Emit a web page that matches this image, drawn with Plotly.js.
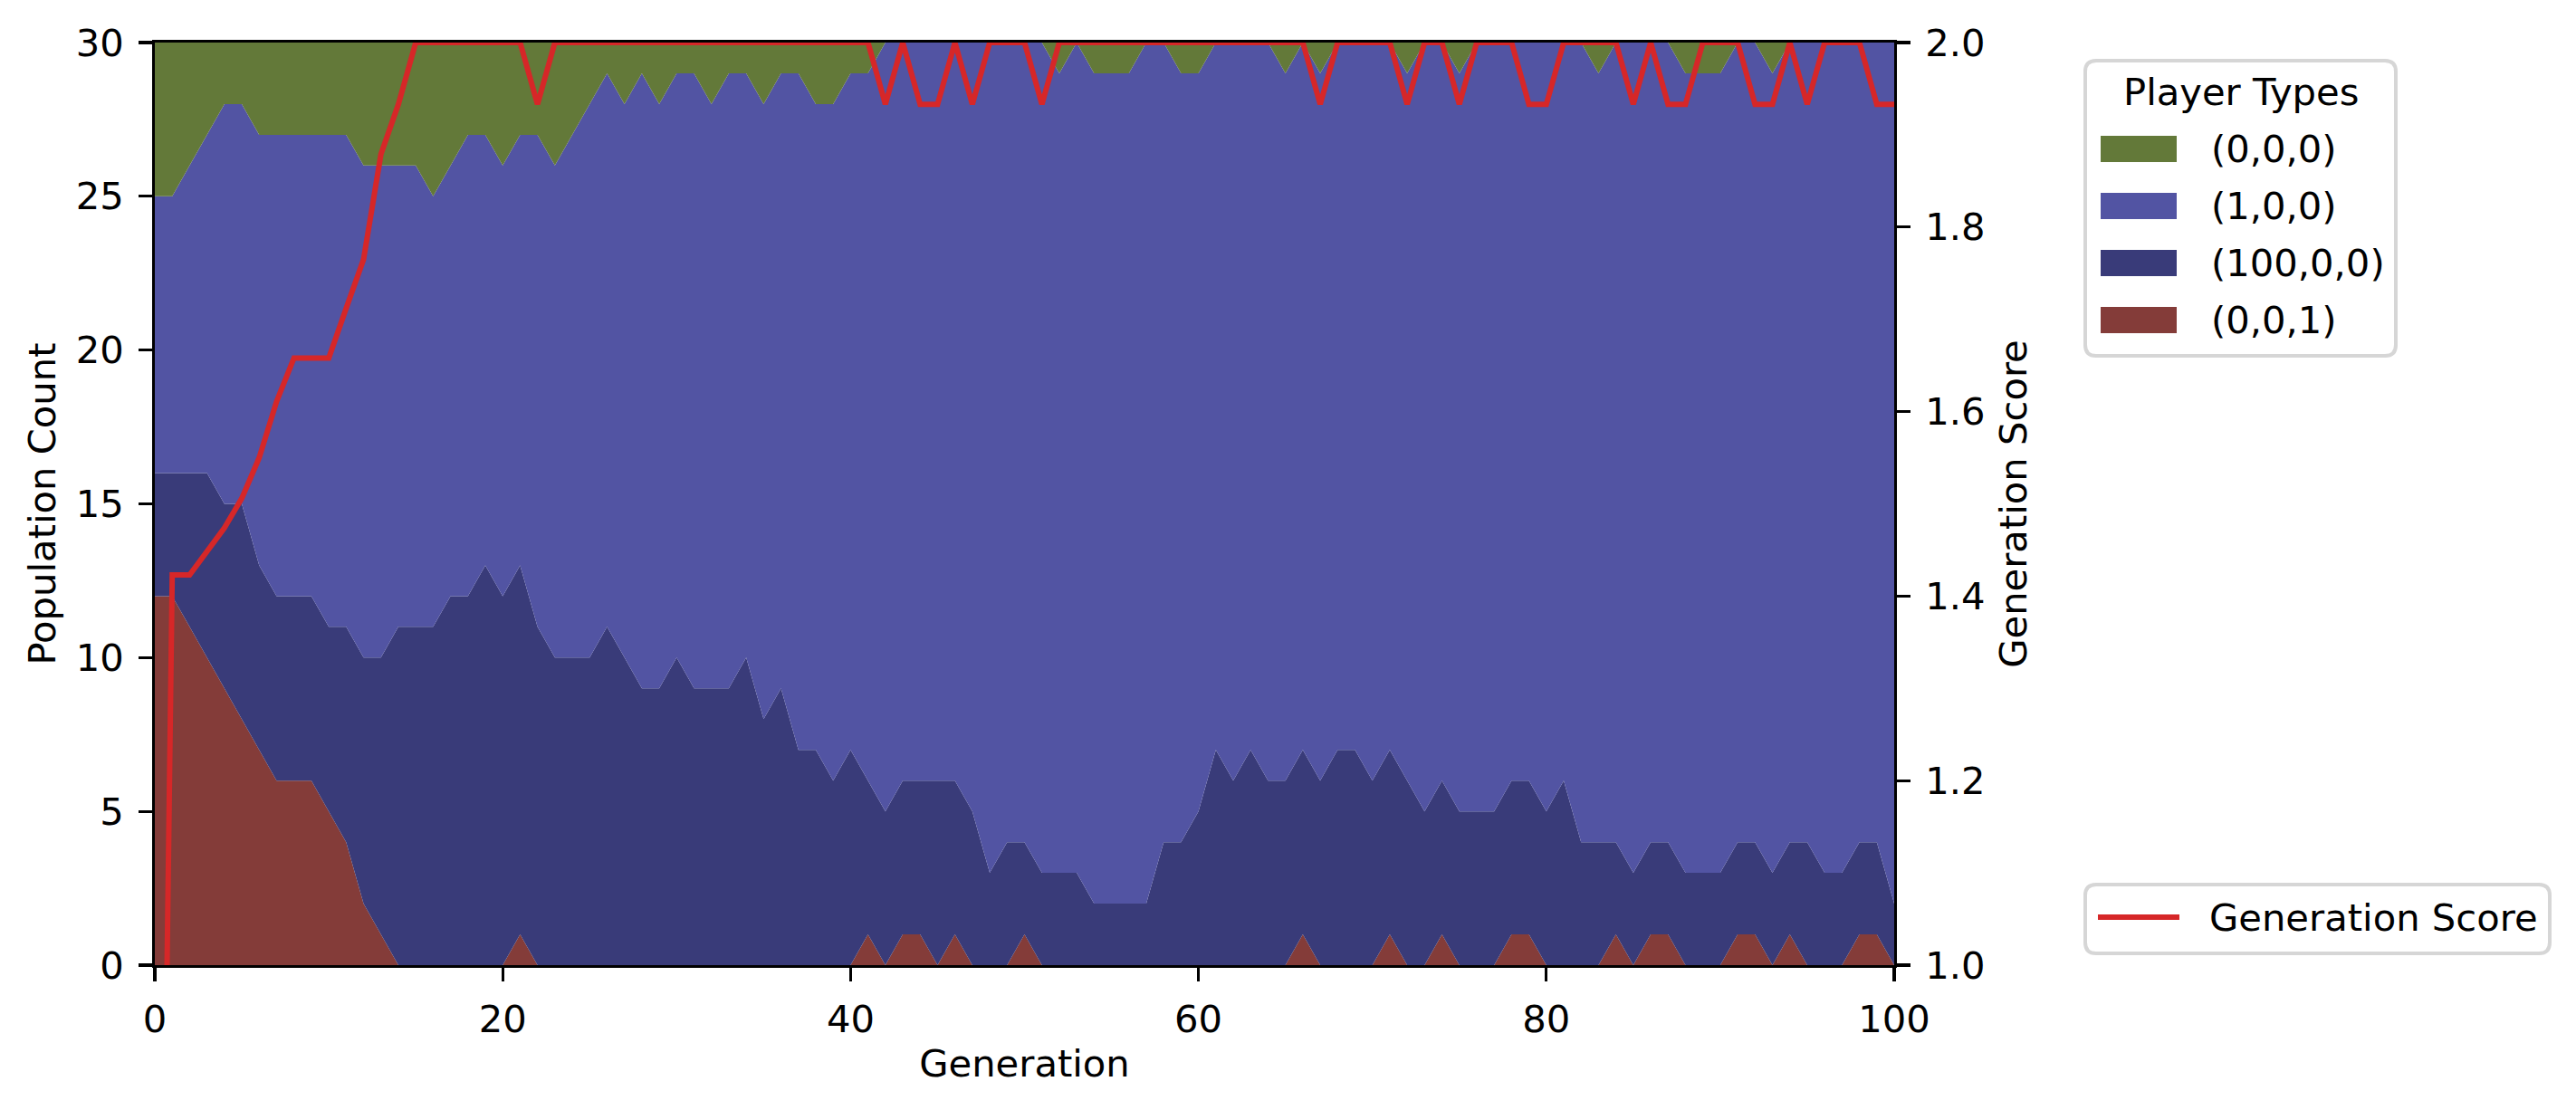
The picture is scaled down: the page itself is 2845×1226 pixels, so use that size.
<!DOCTYPE html>
<html>
<head>
<meta charset="utf-8">
<script src="https://cdn.plot.ly/plotly-3.0.1.min.js"></script>
<style>
  html, body { margin: 0; padding: 0; background: #ffffff; }
  #chart { width: 2845px; height: 1226px; }
</style>
</head>
<body>
<div id="chart"></div>
<script>
// ---------------- DATA ----------------
const generations = [
  0,1,2,3,4,5,6,7,8,9,10,11,12,13,14,15,16,17,18,19,
  20,21,22,23,24,25,26,27,28,29,30,31,32,33,34,35,36,37,38,39,
  40,41,42,43,44,45,46,47,48,49,50,51,52,53,54,55,56,57,58,59,
  60,61,62,63,64,65,66,67,68,69,70,71,72,73,74,75,76,77,78,79,
  80,81,82,83,84,85,86,87,88,89,90,91,92,93,94,95,96,97,98,99,100
];

const playerTypes = ['(0,0,0)', '(1,0,0)', '(100,0,0)', '(0,0,1)'];
const typeColors  = ['#637939', '#5254a3', '#393b79', '#843c39'];

// population counts per generation
const count_0_0_0 = [
  5,5,4,3,2,2,3,3,3,3, 3,3,4,4,4,4,5,4,3,3,
  4,3,3,4,3,2,1,2,1,2, 1,1,2,1,1,2,1,1,2,2,
  1,1,0,0,0,0,0,0,0,0, 0,0,1,0,1,1,1,0,0,1,
  1,0,0,0,0,1,0,1,0,0, 0,0,1,0,0,1,0,0,0,0,
  0,0,0,1,0,0,0,0,1,1, 1,0,0,1,0,0,0,0,0,0, 0
];
const count_1_0_0 = [
  9,9,10,11,13,13,14,15,15,15, 16,16,16,16,15,15,14,14,15,14,
  14,14,16,16,17,18,18,18,20,19, 19,20,19,20,19,20,20,22,21,22,
  22,23,25,24,24,24,24,25,27,26, 26,27,26,27,27,27,27,28,26,25,
  24,23,24,23,24,23,23,23,23,23, 24,23,23,25,24,24,25,25,24,24,
  25,24,26,25,26,27,26,26,26,26, 26,26,26,26,26,26,27,27,26,26, 28
];
const count_100_0_0 = [
  4,4,5,6,6,7,6,6,6,6, 6,7,8,9,11,11,11,12,12,13,
  12,12,11,10,10,10,11,10,9,9, 10,9,9,9,10,8,9,7,7,6,
  7,5,5,5,5,6,5,5,3,4, 3,3,3,3,2,2,2,2,4,4,
  5,7,6,7,6,6,6,6,7,7, 6,6,6,5,5,5,5,5,5,5,
  5,6,4,4,3,3,3,3,3,3, 3,3,3,3,3,4,3,3,3,3, 2
];
const count_0_0_1 = [
  12,12,11,10,9,8,7,6,6,6, 5,4,2,1,0,0,0,0,0,0,
  0,1,0,0,0,0,0,0,0,0, 0,0,0,0,0,0,0,0,0,0,
  0,1,0,1,1,0,1,0,0,0, 1,0,0,0,0,0,0,0,0,0,
  0,0,0,0,0,0,1,0,0,0, 0,1,0,0,1,0,0,0,1,1,
  0,0,0,0,1,0,1,1,0,0, 0,1,1,0,1,0,0,0,1,1, 0
];
const generationScore = [
  0,1.423,1.423,1.448,1.474,1.506,1.55,1.611,1.658,1.658,
  1.658,1.712,1.765,1.879,1.933,2,2,2,2,2,
  2,2,1.933,2,2,2,2,2,2,2,
  2,2,2,2,2,2,2,2,2,2,
  2,2,1.933,2,1.933,1.933,2,1.933,2,2,
  2,1.933,2,2,2,2,2,2,2,2,
  2,2,2,2,2,2,2,1.933,2,2,
  2,2,1.933,2,2,1.933,2,2,2,1.933,
  1.933,2,2,2,2,1.933,2,1.933,1.933,2,
  2,2,1.933,1.933,2,1.933,2,2,2,1.933,
  1.933
];

const xTickVals  = [0, 20, 40, 60, 80, 100];
const yTickVals  = [0, 5, 10, 15, 20, 25, 30];
const y2TickVals = [1.0, 1.2, 1.4, 1.6, 1.8, 2.0];
const y2TickText = ['1.0', '1.2', '1.4', '1.6', '1.8', '2.0'];
const scoreName = 'Generation Score';
const scoreColor = '#d62728';

// ---------------- LAYOUT CONSTANTS ----------------
const W = 2845, H = 1226;
const PL = 171, PR = 2092, PT = 47, PB = 1066;
const FONT = 'DejaVu Sans';
const FS = 41.7;
const LW = 3.3;

function px(x) { return (x - PL) / (PR - PL); }
function py(y) { return (PB - y) / (PB - PT); }

// ---------------- TRACES ----------------
const seriesBottomUp = [
  {name: playerTypes[3], y: count_0_0_1,   color: typeColors[3]},
  {name: playerTypes[2], y: count_100_0_0, color: typeColors[2]},
  {name: playerTypes[1], y: count_1_0_0,   color: typeColors[1]},
  {name: playerTypes[0], y: count_0_0_0,   color: typeColors[0]}
];

const traces = seriesBottomUp.map(s => ({
  type: 'scatter',
  mode: 'lines',
  x: generations,
  y: s.y,
  name: s.name,
  stackgroup: 'pop',
  fillcolor: s.color,
  line: {width: 0, color: s.color},
  showlegend: false,
  hoverinfo: 'skip'
}));

traces.push({
  type: 'scatter',
  mode: 'lines',
  x: generations,
  y: generationScore,
  name: scoreName,
  yaxis: 'y2',
  line: {color: scoreColor, width: 6},
  showlegend: false,
  hoverinfo: 'skip'
});

// ---------------- MANUAL LEGENDS ----------------
function roundRectPath(x0, y0, x1, y1, r) {
  const P = (x, y) => px(x) + ',' + py(y);
  return 'M' + P(x0 + r, y0) + ' L' + P(x1 - r, y0) + ' Q' + P(x1, y0) + ' ' + P(x1, y0 + r) +
         ' L' + P(x1, y1 - r) + ' Q' + P(x1, y1) + ' ' + P(x1 - r, y1) +
         ' L' + P(x0 + r, y1) + ' Q' + P(x0, y1) + ' ' + P(x0, y1 - r) +
         ' L' + P(x0, y0 + r) + ' Q' + P(x0, y0) + ' ' + P(x0 + r, y0) + ' Z';
}

const shapes = [];
const annotations = [];
const frameColor = '#d6d6d6';

// Legend 1: Player Types
const L1 = {x0: 2303, y0: 67, x1: 2646, y1: 393, titleY: 102, rowY0: 164.5, rowStep: 63,
            swX0: 2320, swX1: 2404, swH: 29, textX: 2440};
shapes.push({type: 'path', xref: 'paper', yref: 'paper', path: roundRectPath(L1.x0, L1.y0, L1.x1, L1.y1, 12),
             fillcolor: 'rgba(255,255,255,0.8)', line: {color: frameColor, width: 4}, layer: 'above'});
annotations.push({xref: 'paper', yref: 'paper', x: px((L1.x0 + L1.x1) / 2), y: py(L1.titleY),
                  xanchor: 'center', yanchor: 'middle', showarrow: false, text: 'Player Types',
                  font: {family: FONT, size: FS, color: '#000'}});
playerTypes.forEach((name, i) => {
  const cy = L1.rowY0 + i * L1.rowStep;
  shapes.push({type: 'rect', xref: 'paper', yref: 'paper',
               x0: px(L1.swX0), x1: px(L1.swX1), y0: py(cy - L1.swH / 2), y1: py(cy + L1.swH / 2),
               fillcolor: typeColors[i], line: {width: 0}, layer: 'above'});
  annotations.push({xref: 'paper', yref: 'paper', x: px(L1.textX), y: py(cy),
                    xanchor: 'left', yanchor: 'middle', showarrow: false, text: name,
                    font: {family: FONT, size: FS, color: '#000'}});
});

// Legend 2: Generation Score
const L2 = {x0: 2303, y0: 977, x1: 2816, y1: 1053, cy: 1013, lnX0: 2317, lnX1: 2407, textX: 2438};
shapes.push({type: 'path', xref: 'paper', yref: 'paper', path: roundRectPath(L2.x0, L2.y0, L2.x1, L2.y1, 12),
             fillcolor: 'rgba(255,255,255,0.8)', line: {color: frameColor, width: 4}, layer: 'above'});
shapes.push({type: 'line', xref: 'paper', yref: 'paper', x0: px(L2.lnX0), x1: px(L2.lnX1),
             y0: py(L2.cy), y1: py(L2.cy), line: {color: scoreColor, width: 6}, layer: 'above'});
annotations.push({xref: 'paper', yref: 'paper', x: px(L2.textX), y: py(L2.cy),
                  xanchor: 'left', yanchor: 'middle', showarrow: false, text: scoreName,
                  font: {family: FONT, size: FS, color: '#000'}});

// ---------------- AXES ----------------
const axisCommon = {
  ticks: 'outside', ticklen: 14.6, tickwidth: LW, tickcolor: '#000',
  showline: true, linewidth: LW, linecolor: '#000',
  showgrid: false, zeroline: false,
  tickfont: {family: FONT, size: FS, color: '#000'},
  fixedrange: true
};

const layout = {
  width: W, height: H,
  margin: {l: PL, r: W - PR, t: PT, b: H - PB, pad: 0},
  paper_bgcolor: '#ffffff', plot_bgcolor: '#ffffff',
  showlegend: false,
  font: {family: FONT, size: FS, color: '#000'},
  xaxis: Object.assign({}, axisCommon, {
    range: [0, 100], tickmode: 'array', tickvals: xTickVals,
    mirror: true, ticklabelstandoff: 6,
    title: {text: 'Generation', font: {family: FONT, size: FS, color: '#000'}, standoff: 12}
  }),
  yaxis: Object.assign({}, axisCommon, {
    range: [0, 30], tickmode: 'array', tickvals: yTickVals, ticklabelstandoff: 8,
    title: {text: 'Population Count', font: {family: FONT, size: FS, color: '#000'}, standoff: 10}
  }),
  yaxis2: Object.assign({}, axisCommon, {
    range: [1, 2], overlaying: 'y', side: 'right', anchor: 'x',
    tickmode: 'array', tickvals: y2TickVals, ticktext: y2TickText, ticklabelstandoff: 8,
    title: {text: scoreName, font: {family: FONT, size: FS, color: '#000'}, standoff: 18}
  }),
  shapes: shapes,
  annotations: annotations
};

Plotly.newPlot('chart', traces, layout, {staticPlot: true, displayModeBar: false});
</script>
</body>
</html>
